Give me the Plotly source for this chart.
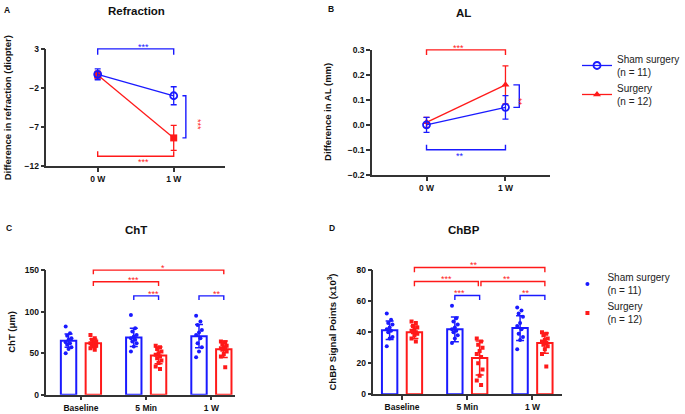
import plotly.graph_objects as go

W, H = 685, 414
BLUE = "#1a1aff"
RED = "#ff1a1a"
AXIS = "#333333"
FONT = "Liberation Sans"

# ---- A: refraction change (diopter), mean and SD
weeks = ["0 W", "1 W"]
refr_sham = [-0.25, -3.0]
refr_sham_sd = [0.7, 1.15]
refr_surg = [-0.35, -8.4]
refr_surg_sd = [0.5, 1.6]

# ---- B: axial length change (mm)
al_sham = [0.0, 0.07]
al_sham_sd = [0.03, 0.047]
al_surg = [0.01, 0.16]
al_surg_sd = [0.02, 0.076]

# ---- C: choroidal thickness (um)
times = ["Baseline", "5 Min", "1 W"]
cht_sham_mean = [65, 69, 70.4]
cht_sham_sd = [8, 11, 14]
cht_surg_mean = [62, 47.3, 54.7]
cht_surg_sd = [5, 10, 10]
cht_sham_pts = [
    [82, 74, 71, 68, 66, 63, 62, 60, 57, 55, 50],
    [96, 80, 76, 72, 70, 68, 66, 64, 62, 58, 52],
    [95, 88, 84, 78, 75, 72, 68, 62, 57, 52, 45],
]
cht_surg_pts = [
    [72, 68, 66, 64, 63, 62, 61, 60, 59, 58, 56, 54],
    [59, 57, 55, 52, 50, 48, 46, 44, 41, 38, 34, 31],
    [64, 63, 61, 59, 57, 56, 55, 54, 52, 49, 46, 33],
]

# ---- D: choroidal blood perfusion signal points (x10^3)
chbp_sham_mean = [41.3, 41.9, 42.7]
chbp_sham_sd = [6, 8, 8]
chbp_surg_mean = [40, 23.4, 33]
chbp_surg_sd = [4, 11, 6.5]
chbp_sham_pts = [
    [52, 48, 46, 45, 43, 42, 41, 40, 37, 36, 31],
    [57, 49, 47, 45, 43, 42, 41, 40, 38, 36, 33],
    [56, 54, 52, 50, 46, 44, 42, 39, 37, 35, 29],
]
chbp_surg_pts = [
    [47, 46, 44, 43, 42, 41, 40, 40, 39, 38, 36, 34],
    [36, 34, 32, 30, 28, 26, 24, 20, 16, 12, 9, 6],
    [40, 39, 38, 36, 35, 34, 33, 32, 31, 29, 26, 18],
]

sham_name = "Sham surgery<br>(n = 11)"
surg_name = "Surgery<br>(n = 12)"

# panel geometry in pixels: x domain (left, right), y domain (bottom, top), ranges
PANELS = {
    1: dict(xd=(47, 228), xr=(-0.675, 1.675), yd=(165, 45), yr=(-12, 3)),
    2: dict(xd=(377, 557), xr=(-0.69, 1.56), yd=(174, 46), yr=(-0.2, 0.3)),
    3: dict(xd=(47, 238), xr=(-0.53, 2.36), yd=(399.3, 271.7), yr=(0, 150)),
    4: dict(xd=(378.3, 569.3), xr=(-0.44, 2.45), yd=(399, 271.7), yr=(0, 80)),
}


def px(x):
    return x / W


def py(y):
    return 1 - y / H


def to_paper(ax, x, y):
    p = PANELS[ax]
    xp = p["xd"][0] + (x - p["xr"][0]) / (p["xr"][1] - p["xr"][0]) * (p["xd"][1] - p["xd"][0])
    yp = p["yd"][0] + (y - p["yr"][0]) / (p["yr"][1] - p["yr"][0]) * (p["yd"][1] - p["yd"][0])
    return px(xp), py(yp)


fig = go.Figure()


# ---------- line panels A and B
def line_panel(xa, ya, sham, sham_sd, surg, surg_sd, surg_symbol, show):
    xs = list(range(len(weeks)))
    fig.add_trace(go.Scatter(
        x=xs, y=surg, xaxis=xa, yaxis=ya, mode="lines+markers", name=surg_name,
        line=dict(color=RED, width=1.3), showlegend=show, legend="legend",
        marker=dict(symbol=surg_symbol, size=7, color=RED),
        error_y=dict(type="data", array=surg_sd, color=RED, thickness=1.3, width=3),
        cliponaxis=False,
    ))
    fig.add_trace(go.Scatter(
        x=xs, y=sham, xaxis=xa, yaxis=ya, mode="lines+markers", name=sham_name,
        line=dict(color=BLUE, width=1.3), showlegend=show, legend="legend",
        marker=dict(symbol="circle-open", size=7, color=BLUE, line=dict(width=1.8)),
        error_y=dict(type="data", array=sham_sd, color=BLUE, thickness=1.3, width=3),
        cliponaxis=False,
    ))


line_panel("x", "y", refr_sham, refr_sham_sd, refr_surg, refr_surg_sd, "square", False)
line_panel("x2", "y2", al_sham, al_sham_sd, al_surg, al_surg_sd, "triangle-up", True)

# ---------- bar panels C and D
OFF = 0.19
BW = 0.236


def jitter(n):
    return [((i * 3) % 5 - 2) * 0.022 for i in range(n)]


def bar_panel(xa, ya, sham_m, sham_sd, surg_m, surg_sd, sham_pts, surg_pts, show):
    for m, sd, pts, col, off, sym, nm in [
        (sham_m, sham_sd, sham_pts, BLUE, -OFF, "circle", sham_name),
        (surg_m, surg_sd, surg_pts, RED, OFF, "square", surg_name),
    ]:
        xs = [i + off for i in range(len(times))]
        fig.add_trace(go.Bar(
            x=xs, y=m, xaxis=xa, yaxis=ya, width=BW, showlegend=False,
            marker=dict(color="rgba(255,255,255,0)", line=dict(color=col, width=2)),
        ))
        dx, dy = [], []
        for i, group in enumerate(pts):
            for j, v in zip(jitter(len(group)), group):
                dx.append(i + off + j)
                dy.append(v)
        fig.add_trace(go.Scatter(
            x=dx, y=dy, xaxis=xa, yaxis=ya, mode="markers", name=nm,
            marker=dict(symbol=sym, size=4, color=col),
            showlegend=show, legend="legend2",
        ))
        fig.add_trace(go.Scatter(
            x=xs, y=m, xaxis=xa, yaxis=ya, mode="markers", showlegend=False,
            marker=dict(size=1, color="rgba(0,0,0,0)"),
            error_y=dict(type="data", array=sd, color=col, thickness=1.5, width=4),
        ))


bar_panel("x3", "y3", cht_sham_mean, cht_sham_sd, cht_surg_mean, cht_surg_sd,
          cht_sham_pts, cht_surg_pts, False)
bar_panel("x4", "y4", chbp_sham_mean, chbp_sham_sd, chbp_surg_mean, chbp_surg_sd,
          chbp_sham_pts, chbp_surg_pts, True)

# ---------- significance brackets (drawn in paper space so they can sit above the axes)
shapes = []
annotations = []


def path(points):
    return "M " + " L ".join(f"{x},{y}" for x, y in points)


def bracket(ax, x0, x1, y, tick, col, text, tcol, above=True):
    pts = [to_paper(ax, x0, y - tick), to_paper(ax, x0, y),
           to_paper(ax, x1, y), to_paper(ax, x1, y - tick)]
    shapes.append(dict(type="path", xref="paper", yref="paper", path=path(pts),
                       line=dict(color=col, width=1.4)))
    cx, cy = to_paper(ax, (x0 + x1) / 2, y)
    annotations.append(dict(
        x=cx, y=cy, xref="paper", yref="paper", text=text, showarrow=False,
        font=dict(family=FONT, size=9, color=tcol),
        yanchor="middle", yshift=2 if above else -6,
    ))


def vbracket(ax, x0, x1, y0, y1, col, text, tcol, xt):
    pts = [to_paper(ax, x0, y0), to_paper(ax, x1, y0),
           to_paper(ax, x1, y1), to_paper(ax, x0, y1)]
    shapes.append(dict(type="path", xref="paper", yref="paper", path=path(pts),
                       line=dict(color=col, width=1.4)))
    cx, cy = to_paper(ax, xt, (y0 + y1) / 2)
    annotations.append(dict(
        x=cx, y=cy, xref="paper", yref="paper", text=text, showarrow=False,
        font=dict(family=FONT, size=9, color=tcol), textangle=90,
    ))


bracket(1, 0, 1, 3, 0.75, BLUE, "***", BLUE)
bracket(1, 0, 1, -10.75, -0.65, RED, "***", RED, above=False)
vbracket(1, 1.115, 1.16, refr_sham[1], refr_surg[1], BLUE, "***", RED, 1.22)

bracket(2, 0, 1, 0.3, 0.02, RED, "***", RED)
bracket(2, 0, 1, -0.1, -0.02, BLUE, "**", BLUE, above=False)
vbracket(2, 1.1, 1.175, al_surg[1], al_sham[1], BLUE, "**", RED, 1.26)

bracket(3, OFF, 2 + OFF, 150, 5, RED, "*", RED)
bracket(3, OFF, 1 + OFF, 136, 5, RED, "***", RED)
bracket(3, 1 - OFF, 1 + OFF, 119, 5, BLUE, "***", RED)
bracket(3, 2 - OFF, 2 + OFF, 119, 5, BLUE, "**", RED)

bracket(4, OFF, 2 + OFF, 81.7, 3, RED, "**", RED)
bracket(4, OFF, 1 + OFF - 0.02, 72.7, 3, RED, "***", RED)
bracket(4, 1 + OFF + 0.02, 2 + OFF, 72.7, 3, RED, "**", RED)
bracket(4, 1 - OFF, 1 + OFF, 63.7, 3, BLUE, "***", RED)
bracket(4, 2 - OFF, 2 + OFF, 63.7, 3, BLUE, "**", RED)


# ---------- titles, panel letters, axis titles
def paper_text(x, y, text, size, bold=True, angle=0):
    annotations.append(dict(
        x=px(x), y=py(y), xref="paper", yref="paper", text=text, showarrow=False,
        xanchor="center", yanchor="middle", textangle=angle,
        font=dict(family=FONT, size=size, color="#111",
                  weight="bold" if bold else "normal"),
    ))


paper_text(138, 6, "Refraction", 11.5)
paper_text(470, 8, "AL", 11.5)
paper_text(138, 231, "ChT", 11.5)
paper_text(470, 231, "ChBP", 11.5)
paper_text(7, 5, "A", 8.5)
paper_text(335, 4, "B", 8.5)
paper_text(9, 229, "C", 8.5)
paper_text(336, 229, "D", 8.5)
paper_text(8, 105, "Difference in refraction (diopter)", 9.5, angle=-90)
paper_text(332, 110, "Difference in AL (mm)", 9.5, angle=-90)
paper_text(12, 335, "ChT (\u03bcm)", 9.5, angle=-90)
paper_text(336, 335, "ChBP Signal Points (x10<sup>3</sup>)", 9.5, angle=-90)

# ---------- axes
tickfont = dict(family=FONT, size=8.5, color="#111", weight="bold")
axis_common = dict(showline=True, linecolor=AXIS, linewidth=1.5, ticks="outside",
                   tickcolor=AXIS, ticklen=4, tickwidth=1.5, showgrid=False,
                   zeroline=False, tickfont=tickfont)


def axes(ax):
    p = PANELS[ax]
    xa = dict(domain=[px(p["xd"][0]), px(p["xd"][1])], range=list(p["xr"]),
              anchor="y" + ("" if ax == 1 else str(ax)), **axis_common)
    ya = dict(domain=[py(p["yd"][0]), py(p["yd"][1])], range=list(p["yr"]),
              anchor="x" + ("" if ax == 1 else str(ax)), **axis_common)
    return xa, ya


x1a, y1a = axes(1)
x2a, y2a = axes(2)
x3a, y3a = axes(3)
x4a, y4a = axes(4)
x1a.update(tickvals=[0, 1], ticktext=weeks)
x2a.update(tickvals=[0, 1], ticktext=weeks)
x3a.update(tickvals=[0, 1, 2], ticktext=times)
x4a.update(tickvals=[0, 1, 2], ticktext=times)
y1a.update(tickvals=[3, -2, -7, -12])
y2a.update(tickvals=[-0.2, -0.1, 0, 0.1, 0.2, 0.3], tickformat=".1f")
y3a.update(tickvals=[0, 50, 100, 150])
y4a.update(tickvals=[0, 20, 40, 60, 80])

fig.update_layout(
    width=W, height=H, margin=dict(l=0, r=0, t=0, b=0),
    plot_bgcolor="white", paper_bgcolor="white", barmode="overlay",
    font=dict(family=FONT),
    xaxis=x1a, yaxis=y1a, xaxis2=x2a, yaxis2=y2a,
    xaxis3=x3a, yaxis3=y3a, xaxis4=x4a, yaxis4=y4a,
    legend=dict(x=px(585), y=py(42), xanchor="left", yanchor="top",
                font=dict(family=FONT, size=10, color="#222"),
                bgcolor="rgba(0,0,0,0)", itemwidth=30, traceorder="reversed",
                tracegroupgap=4),
    legend2=dict(x=px(575), y=py(266), xanchor="left", yanchor="top",
                 font=dict(family=FONT, size=10, color="#222"),
                 bgcolor="rgba(0,0,0,0)", itemwidth=30, traceorder="normal",
                 tracegroupgap=0),
    shapes=shapes,
    annotations=annotations,
)

fig.write_html("out.html", config={"displayModeBar": False},
               post_script="document.body.style.margin='0px';")
